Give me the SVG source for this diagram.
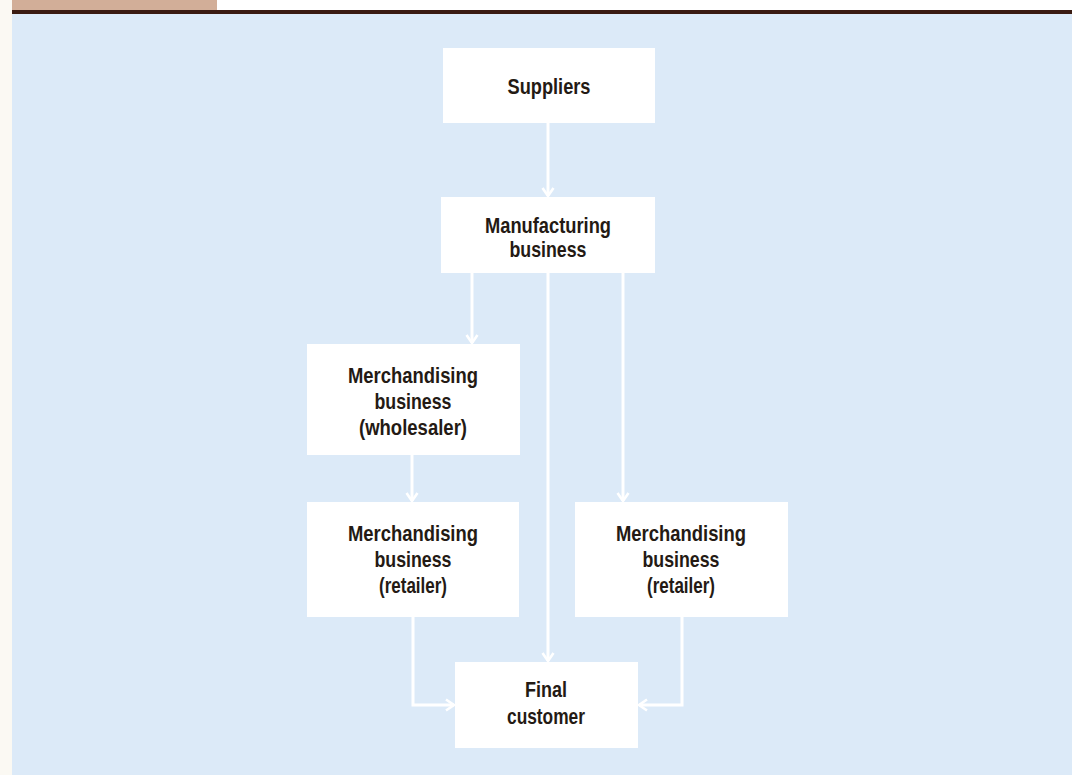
<svg xmlns="http://www.w3.org/2000/svg" width="1072" height="775" viewBox="0 0 1072 775">
<style>
.box{fill:#ffffff;}
.lbl{font-family:"Liberation Sans",Arial,sans-serif;font-weight:bold;font-size:22px;fill:#241a14;text-anchor:middle;}
.con{fill:none;stroke:#ffffff;stroke-width:3;}
</style>
<defs>
<marker id="arr" markerUnits="userSpaceOnUse" markerWidth="14" markerHeight="14" refX="9" refY="6" orient="auto" viewBox="0 0 14 12">
<path d="M1,0.5 L9,6 L1,11.5" fill="none" stroke="#ffffff" stroke-width="2.6"/>
</marker>
</defs>
<rect x="0" y="0" width="1072" height="775" fill="#fbf9f3"/>
<rect x="12" y="12" width="1060" height="763" fill="#dceaf8"/>
<rect x="12" y="0" width="205" height="10" fill="#d2ae98"/>
<rect x="217" y="0" width="855" height="10" fill="#ffffff"/>
<rect x="12" y="10" width="1060" height="4" fill="#3a1b12"/>
<g id="connectors">
<path class="con" d="M548,123 V196" marker-end="url(#arr)"/>
<path class="con" d="M472,273 V343" marker-end="url(#arr)"/>
<path class="con" d="M548,273 V661" marker-end="url(#arr)"/>
<path class="con" d="M623,273 V501" marker-end="url(#arr)"/>
<path class="con" d="M412,455 V501" marker-end="url(#arr)"/>
<path class="con" d="M413,617 V705 H454" marker-end="url(#arr)"/>
<path class="con" d="M682,617 V705 H639" marker-end="url(#arr)"/>
</g>
<g id="suppliers">
<rect class="box" x="443" y="48" width="212" height="75"/>
<text class="lbl" x="549" y="94" textLength="83" lengthAdjust="spacingAndGlyphs">Suppliers</text>
</g>
<g id="manufacturing">
<rect class="box" x="441" y="197" width="214" height="76"/>
<text class="lbl" x="548" y="233" textLength="126" lengthAdjust="spacingAndGlyphs">Manufacturing</text>
<text class="lbl" x="548" y="257" textLength="77" lengthAdjust="spacingAndGlyphs">business</text>
</g>
<g id="wholesaler">
<rect class="box" x="307" y="344" width="213" height="111"/>
<text class="lbl" x="413" y="383" textLength="130" lengthAdjust="spacingAndGlyphs">Merchandising</text>
<text class="lbl" x="413" y="409" textLength="77" lengthAdjust="spacingAndGlyphs">business</text>
<text class="lbl" x="413" y="435" textLength="108" lengthAdjust="spacingAndGlyphs">(wholesaler)</text>
</g>
<g id="retailer-left">
<rect class="box" x="307" y="502" width="212" height="115"/>
<text class="lbl" x="413" y="541" textLength="130" lengthAdjust="spacingAndGlyphs">Merchandising</text>
<text class="lbl" x="413" y="567" textLength="77" lengthAdjust="spacingAndGlyphs">business</text>
<text class="lbl" x="413" y="593" textLength="68" lengthAdjust="spacingAndGlyphs">(retailer)</text>
</g>
<g id="retailer-right">
<rect class="box" x="575" y="502" width="213" height="115"/>
<text class="lbl" x="681" y="541" textLength="130" lengthAdjust="spacingAndGlyphs">Merchandising</text>
<text class="lbl" x="681" y="567" textLength="77" lengthAdjust="spacingAndGlyphs">business</text>
<text class="lbl" x="681" y="593" textLength="68" lengthAdjust="spacingAndGlyphs">(retailer)</text>
</g>
<g id="final-customer">
<rect class="box" x="455" y="662" width="183" height="86"/>
<text class="lbl" x="546" y="697" textLength="42" lengthAdjust="spacingAndGlyphs">Final</text>
<text class="lbl" x="546" y="724" textLength="78" lengthAdjust="spacingAndGlyphs">customer</text>
</g>
</svg>
